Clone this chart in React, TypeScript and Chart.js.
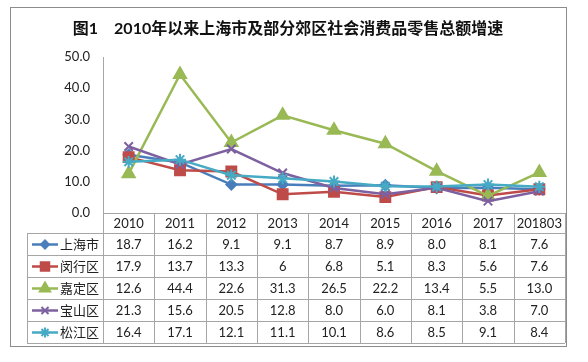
import React, { useEffect, useRef } from 'react';
import { Chart, registerables } from 'chart.js';
import { drawPoint } from 'chart.js/helpers';

Chart.register(...registerables);

const categories = ['2010', '2011', '2012', '2013', '2014', '2015', '2016', '2017', '201803'];
const shanghai = ['18.7', '16.2', '9.1', '9.1', '8.7', '8.9', '8.0', '8.1', '7.6'];
const minhang = ['17.9', '13.7', '13.3', '6', '6.8', '5.1', '8.3', '5.6', '7.6'];
const jiading = ['12.6', '44.4', '22.6', '31.3', '26.5', '22.2', '13.4', '5.5', '13.0'];
const baoshan = ['21.3', '15.6', '20.5', '12.8', '8.0', '6.0', '8.1', '3.8', '7.0'];
const songjiang = ['16.4', '17.1', '12.1', '11.1', '10.1', '8.6', '8.5', '9.1', '8.4'];
const seriesNames = ['上海市', '闵行区', '嘉定区', '宝山区', '松江区'];
const seriesValues = [shanghai, minhang, jiading, baoshan, songjiang];
const yMin = 0;
const yMax = 50;
const yStep = 10;
const titleText = '图1　2010年以来上海市及部分郊区社会消费品零售总额增速';

const colors = ['#4A7EBB', '#BE4B48', '#98B954', '#7D60A0', '#46AAC5'];
const pointStyles = ['rectRot', 'rect', 'triangle', 'crossRot', 'star'];
const pointRadii = [5, 7, 7, 6, 6];

const LATIN = 'Lato, "Noto Sans CJK SC", sans-serif';
const CJK = '"Noto Sans CJK SC", sans-serif';

const tablePlugin = {
  id: 'tablePlugin',
  afterDraw(chart: any) {
    const ctx = chart.ctx as CanvasRenderingContext2D;
    const area = chart.chartArea;
    const xs = chart.scales.x;
    const bw = xs.getPixelForValue(1) - xs.getPixelForValue(0);
    const left = area.left;
    const right = area.right;
    const headerTop = area.bottom;
    const headerBottom = headerTop + 20;
    const rowH = 22;
    const nRows = seriesNames.length;
    const tableBottom = headerBottom + rowH * nRows;
    const legendLeft = 27;

    ctx.save();
    // title
    ctx.fillStyle = '#111';
    ctx.font = 'bold 16px ' + LATIN;
    ctx.textAlign = 'center';
    ctx.textBaseline = 'middle';
    ctx.fillText(titleText, 288, 29);

    // grid lines of table
    ctx.strokeStyle = '#a6a6a6';
    ctx.lineWidth = 1;
    ctx.beginPath();
    const px = (v: number) => Math.round(v) + 0.5;
    ctx.moveTo(left, px(headerTop));
    ctx.lineTo(right, px(headerTop));
    for (let i = 0; i <= categories.length; i++) {
      const xv = px(left + i * bw);
      ctx.moveTo(xv, i === 0 ? area.top : headerTop);
      ctx.lineTo(xv, tableBottom);
    }
    for (let r = 0; r <= nRows; r++) {
      const yv = px(headerBottom + r * rowH);
      ctx.moveTo(legendLeft, yv);
      ctx.lineTo(right, yv);
    }
    ctx.moveTo(px(legendLeft), headerBottom);
    ctx.lineTo(px(legendLeft), tableBottom);
    ctx.stroke();

    // outer border
    ctx.strokeStyle = '#8c8c8c';
    ctx.strokeRect(10.5, 7.5, 556, 339);

    // header labels
    ctx.fillStyle = '#222';
    ctx.font = '13px ' + LATIN;
    ctx.textAlign = 'center';
    categories.forEach((c, i) => {
      ctx.fillText(c, xs.getPixelForValue(i), headerTop + 10.5);
    });

    // rows
    seriesNames.forEach((name, r) => {
      const yc = headerBottom + r * rowH + rowH / 2 + 0.5;
      const ds = chart.data.datasets[r];
      // legend line + marker
      ctx.strokeStyle = ds.borderColor;
      ctx.lineWidth = 2.5;
      ctx.beginPath();
      ctx.moveTo(32, yc);
      ctx.lineTo(58, yc);
      ctx.stroke();
      ctx.fillStyle = ds.borderColor;
      ctx.lineWidth = 2;
      drawPoint(ctx, { pointStyle: ds.pointStyle, radius: ds.pointRadius - 1, borderWidth: 2, rotation: 0 } as any, 45, yc);
      // name
      ctx.fillStyle = '#222';
      ctx.font = '13px ' + CJK;
      ctx.textAlign = 'left';
      ctx.fillText(name, 60, yc);
      // values
      ctx.font = '13px ' + LATIN;
      ctx.textAlign = 'center';
      seriesValues[r].forEach((v, i) => {
        ctx.fillText(v, xs.getPixelForValue(i), yc);
      });
    });
    ctx.restore();
  },
};

export default function App() {
  const ref = useRef<HTMLCanvasElement | null>(null);
  useEffect(() => {
    if (!ref.current) return;
    const chart = new Chart(ref.current, {
      type: 'line',
      data: {
        labels: categories,
        datasets: seriesNames.map((name, i) => ({
          label: name,
          data: seriesValues[i].map((v) => Number(v)),
          borderColor: colors[i],
          backgroundColor: colors[i],
          pointBackgroundColor: colors[i],
          pointBorderColor: colors[i],
          pointStyle: pointStyles[i] as any,
          pointRadius: pointRadii[i],
          pointBorderWidth: 2,
          borderWidth: 2.5,
          tension: 0,
          order: seriesNames.length - i,
        })),
      },
      options: {
        animation: false,
        responsive: false,
        maintainAspectRatio: false,
        layout: { padding: { left: 10, right: 23, top: 57, bottom: 149 } },
        plugins: { legend: { display: false }, title: { display: false }, tooltip: { enabled: false } },
        scales: {
          x: { type: 'category', display: false, offset: true },
          y: {
            min: yMin,
            max: yMax,
            afterFit: (s: any) => {
              s.width = 93;
            },
            ticks: {
              stepSize: yStep,
              padding: 13,
              color: '#222',
              font: { family: LATIN, size: 13 },
              callback: (v: any) => Number(v).toFixed(1),
            },
            grid: { display: true, color: 'rgba(0,0,0,0)', drawTicks: false },
            border: { display: true, color: '#a6a6a6', width: 1 },
          },
        },
      },
      plugins: [tablePlugin],
    });
    return () => chart.destroy();
  }, []);
  return (
    <div style={{ position: 'fixed', left: 0, top: 0, width: 588, height: 362, background: '#fff' }}>
      <canvas ref={ref} width={588} height={362} style={{ width: 588, height: 362 }} />
    </div>
  );
}
